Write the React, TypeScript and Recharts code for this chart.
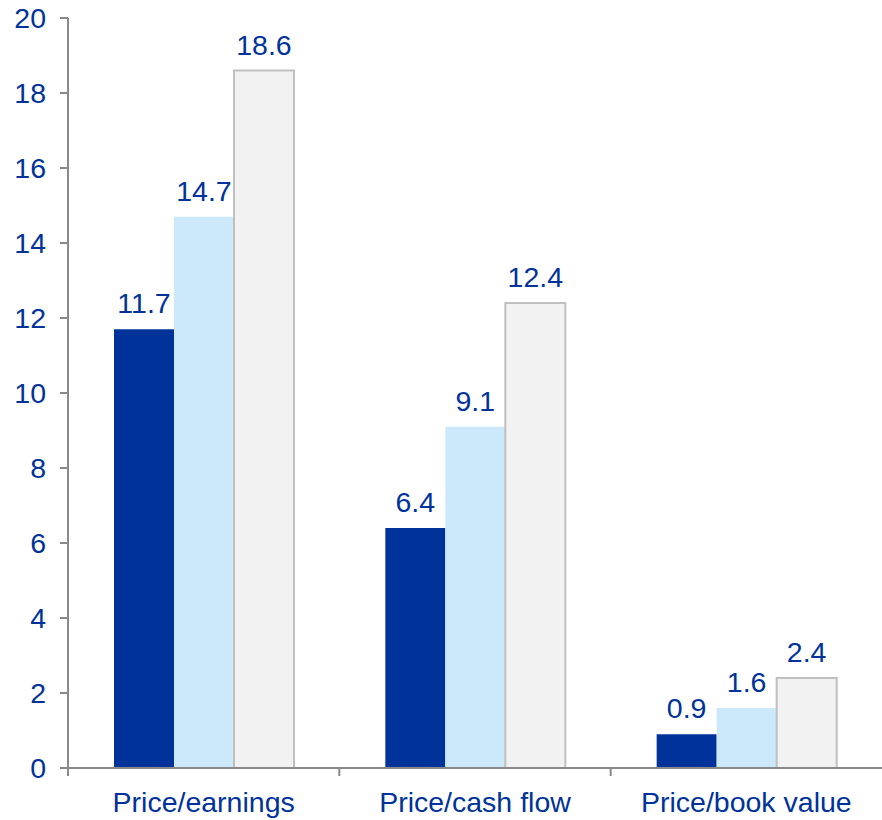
import { Bar, BarChart, LabelList, XAxis, YAxis } from "recharts";

const categories = ["Price/earnings", "Price/cash flow", "Price/book value"];
const seriesA = [11.7, 6.4, 0.9];
const seriesB = [14.7, 9.1, 1.6];
const seriesC = [18.6, 12.4, 2.4];
const yTicks = [0, 2, 4, 6, 8, 10, 12, 14, 16, 18, 20];

const data = categories.map((name, i) => ({
  name,
  a: seriesA[i],
  b: seriesB[i],
  c: seriesC[i],
}));

const BLUE = "#003399";
const AXIS = "#898989";
const FONT = "'Liberation Sans', Arial, sans-serif";

// category ticks sit on the band edges, labels in the middle
function CatTick(props: any) {
  const { x, y, payload } = props;
  const half = payload.offset ?? 0;
  return (
    <g>
      <line x1={x - half} y1={y} x2={x - half} y2={y + 8} stroke={AXIS} strokeWidth={2} />
      <text x={x} y={y + 24} dy="0.71em" textAnchor="middle" fill={BLUE} fontSize={28.5} fontFamily={FONT}>
        {payload.value}
      </text>
    </g>
  );
}

export default function App() {
  return (
    <div style={{ position: "absolute", left: 0, top: 0, width: 882, height: 820, background: "#fff" }}>
      <BarChart
        width={882}
        height={820}
        data={data}
        margin={{ top: 18, right: 0, left: 1, bottom: 0 }}
        barGap={0}
        barSize={60}
      >
        <XAxis
          dataKey="name"
          height={52}
          axisLine={{ stroke: AXIS, strokeWidth: 2 }}
          tickLine={false}
          tickSize={0}
          tickMargin={0}
          tick={<CatTick />}
          interval={0}
        />
        <YAxis
          domain={[0, 20]}
          ticks={yTicks}
          width={67}
          axisLine={{ stroke: AXIS, strokeWidth: 2 }}
          tickLine={{ stroke: AXIS, strokeWidth: 2 }}
          tickSize={8}
          tickMargin={14}
          tick={{ fill: BLUE, fontSize: 28.5, fontFamily: FONT }}
        />
        <Bar dataKey="a" fill={BLUE} isAnimationActive={false}>
          <LabelList dataKey="a" position="top" offset={16} fill={BLUE} fontSize={28.5} fontFamily={FONT} />
        </Bar>
        <Bar dataKey="b" fill="#cce9fc" isAnimationActive={false}>
          <LabelList dataKey="b" position="top" offset={16} fill={BLUE} fontSize={28.5} fontFamily={FONT} />
        </Bar>
        <Bar dataKey="c" fill="#f2f2f2" stroke="#bfbfbf" strokeWidth={2} isAnimationActive={false}>
          <LabelList dataKey="c" position="top" offset={16} fill={BLUE} fontSize={28.5} fontFamily={FONT} />
        </Bar>
      </BarChart>
    </div>
  );
}
